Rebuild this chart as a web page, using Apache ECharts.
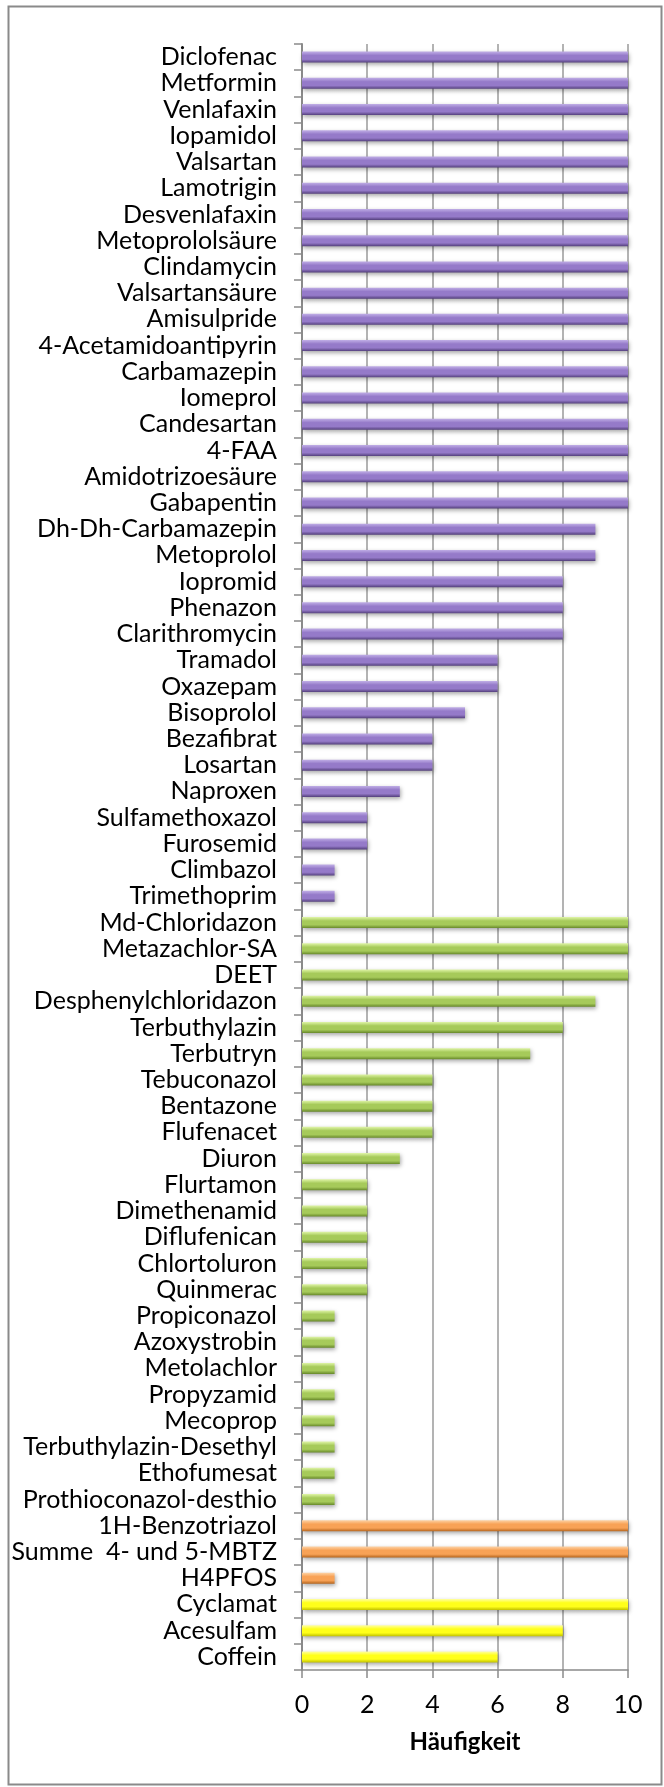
<!DOCTYPE html>
<html>
<head>
<meta charset="utf-8">
<script src="https://cdn.jsdelivr.net/npm/echarts@6/dist/echarts.min.js"></script>
<style>
html,body{margin:0;padding:0;background:#fff;}
#chart{width:664px;height:1787px;}
</style>
</head>
<body>
<div id="chart"></div>
<script>
// Pharmaceuticals (purple)
const pharmaNames = ["Diclofenac","Metformin","Venlafaxin","Iopamidol","Valsartan","Lamotrigin","Desvenlafaxin","Metoprololsäure","Clindamycin","Valsartansäure","Amisulpride","4-Acetamidoantipyrin","Carbamazepin","Iomeprol","Candesartan","4-FAA","Amidotrizoesäure","Gabapentin","Dh-Dh-Carbamazepin","Metoprolol","Iopromid","Phenazon","Clarithromycin","Tramadol","Oxazepam","Bisoprolol","Bezafibrat","Losartan","Naproxen","Sulfamethoxazol","Furosemid","Climbazol","Trimethoprim"];
const pharmaValues = [10,10,10,10,10,10,10,10,10,10,10,10,10,10,10,10,10,10,9,9,8,8,8,6,6,5,4,4,3,2,2,1,1];
// Pesticides (green)
const pestNames = ["Md-Chloridazon","Metazachlor-SA","DEET","Desphenylchloridazon","Terbuthylazin","Terbutryn","Tebuconazol","Bentazone","Flufenacet","Diuron","Flurtamon","Dimethenamid","Diflufenican","Chlortoluron","Quinmerac","Propiconazol","Azoxystrobin","Metolachlor","Propyzamid","Mecoprop","Terbuthylazin-Desethyl","Ethofumesat","Prothioconazol-desthio"];
const pestValues = [10,10,10,9,8,7,4,4,4,3,2,2,2,2,2,1,1,1,1,1,1,1,1];
// Industrial chemicals (orange)
const induNames = ["1H-Benzotriazol","Summe  4- und 5-MBTZ","H4PFOS"];
const induValues = [10,10,1];
// Sweeteners / food (yellow)
const foodNames = ["Cyclamat","Acesulfam","Coffein"];
const foodValues = [10,8,6];
const xTicks = [0,2,4,6,8,10];

function grad(top, mid, bot) {
  return new echarts.graphic.LinearGradient(0,0,0,1,[
    {offset:0,color:top},{offset:0.35,color:mid},{offset:0.7,color:mid},{offset:1,color:bot}
  ]);
}
const groups = [
  {names: pharmaNames, values: pharmaValues, color: grad('#c0aee6','#957ac9','#54407c')},
  {names: pestNames, values: pestValues, color: grad('#e0f5a8','#a6ca5a','#67882a')},
  {names: induNames, values: induValues, color: grad('#fdd3a6','#f8a256','#b5651e')},
  {names: foodNames, values: foodValues, color: grad('#ffffa8','#ffff1a','#c2c200')}
];
const categories = [];
const data = [];
groups.forEach(g => {
  g.names.forEach((n,i) => {
    categories.push(n);
    data.push({value: g.values[i], itemStyle: {color: g.color}});
  });
});

const chart = echarts.init(document.getElementById('chart'), null, {renderer:'canvas'});
const fontFam = 'Lato, "Open Sans", sans-serif';
chart.setOption({
  animation: false,
  backgroundColor: '#fff',
  graphic: [{
    type: 'rect', left: 6, top: 4,
    shape: {width: 653, height: 1778},
    style: {fill: 'none', stroke: '#8a8a8a', lineWidth: 2}
  }],
  grid: {left: 302, right: 36, top: 44, bottom: 117, containLabel: false},
  xAxis: {
    type: 'value', min: 0, max: 10, interval: 2,
    axisLine: {show: true, lineStyle: {color: '#8a8a8a', width: 1.5}},
    axisTick: {show: true, length: 8, lineStyle: {color: '#8a8a8a', width: 1.5}},
    splitLine: {show: true, lineStyle: {color: '#9a9a9a', width: 1.5}},
    axisLabel: {
      color: '#000', fontSize: 25, fontFamily: fontFam, margin: 22,
      formatter: v => xTicks.indexOf(v) >= 0 ? String(v) : ''
    },
    name: 'Häufigkeit', nameLocation: 'middle', nameGap: 60,
    nameTextStyle: {color: '#000', fontSize: 24, fontWeight: 'bold', fontFamily: fontFam}
  },
  yAxis: {
    type: 'category', inverse: true, data: categories,
    axisLine: {show: true, lineStyle: {color: '#8a8a8a', width: 2}},
    axisTick: {show: true, length: 8, lineStyle: {color: '#8a8a8a', width: 1.5}},
    axisLabel: {color: '#000', fontSize: 25, fontFamily: fontFam, margin: 25, interval: 0}
  },
  series: [{
    type: 'bar', data: data, barWidth: 11,
    itemStyle: {shadowBlur: 4, shadowColor: 'rgba(0,0,0,0.35)', shadowOffsetY: 2, shadowOffsetX: 1}
  }]
});
</script>
</body>
</html>
